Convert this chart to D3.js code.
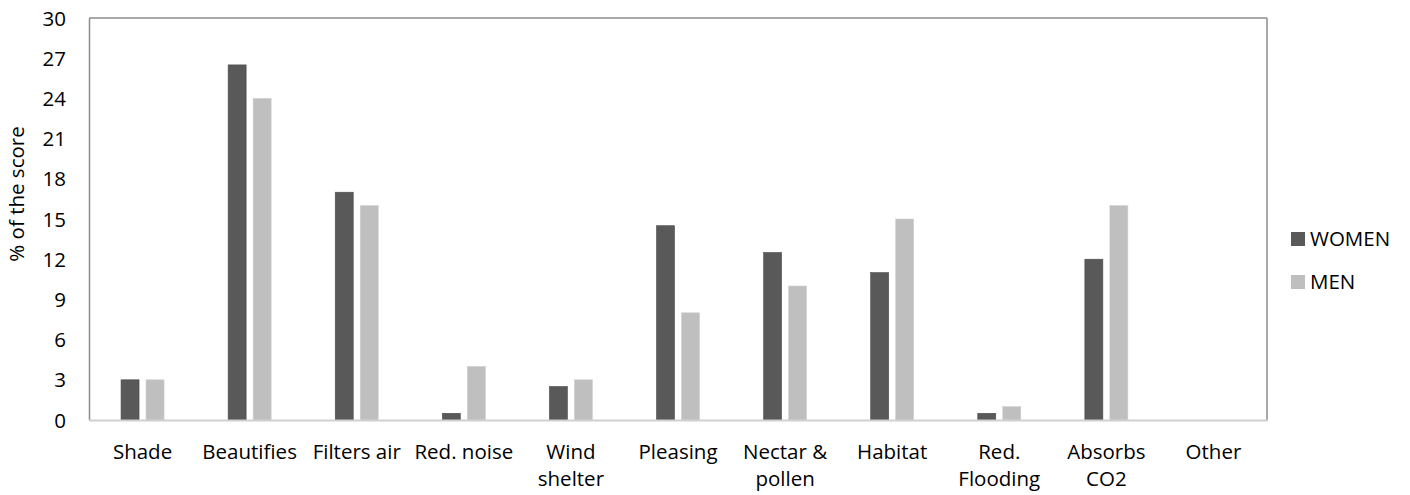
<!DOCTYPE html>
<html>
<head>
<meta charset="utf-8">
<script src="https://cdn.jsdelivr.net/npm/d3@7"></script>
<style>
  html, body { margin: 0; padding: 0; background: #fff; }
  svg text { font-family: "Open Sans", sans-serif; fill: #000; }
</style>
</head>
<body>
<svg id="chart" width="1410" height="495"></svg>
<script>
// Benefits of trees, share of total score by gender
const categories = [
  ["Shade"], ["Beautifies"], ["Filters air"], ["Red. noise"], ["Wind", "shelter"],
  ["Pleasing"], ["Nectar &", "pollen"], ["Habitat"], ["Red.", "Flooding"], ["Absorbs", "CO2"], ["Other"]
];
const women = [3, 26.5, 17, 0.5, 2.5, 14.5, 12.5, 11, 0.5, 12, 0];
const men   = [3, 24, 16, 4, 3, 8, 10, 15, 1, 16, 0];
const seriesNames = ["WOMEN", "MEN"];
const yTicks = [0, 3, 6, 9, 12, 15, 18, 21, 24, 27, 30];

const colors = ["#595959", "#bfbfbf"];
const svg = d3.select("#chart");
const plot = { left: 89, right: 1267, top: 18, bottom: 420 };
const fontSize = "20.5px";

const x = d3.scaleBand()
  .domain(d3.range(categories.length))
  .range([plot.left, plot.right]);
const y = d3.scaleLinear().domain([0, 30]).range([plot.bottom, plot.top]);

const barW = 18, barGap = 7;

// Frame
svg.append("line").attr("x1", plot.left).attr("x2", plot.right)
  .attr("y1", plot.top).attr("y2", plot.top).attr("stroke", "#8c8c8c").attr("stroke-width", 1.5);
svg.append("line").attr("x1", plot.right).attr("x2", plot.right)
  .attr("y1", plot.top).attr("y2", plot.bottom).attr("stroke", "#8c8c8c").attr("stroke-width", 1.5);

// Bars
const groups = [women, men];
groups.forEach((vals, si) => {
  svg.append("g").selectAll("rect").data(vals).join("rect")
    .attr("x", (d, i) => x(i) + x.bandwidth() / 2 + (si === 0 ? -(barW + barGap / 2) : barGap / 2))
    .attr("y", d => y(d))
    .attr("width", barW)
    .attr("height", d => y(0) - y(d))
    .attr("fill", colors[si])
    .attr("stroke", si === 0 ? "#4d4d4d" : "#cfcfcf")
    .attr("stroke-width", 0.6);
});

// Y axis
const yAxis = svg.append("g").attr("transform", `translate(${plot.left},0)`)
  .call(d3.axisLeft(y).tickValues(yTicks).tickSize(0).tickPadding(23));
yAxis.select(".domain").attr("stroke", "#8c8c8c").attr("stroke-width", 1.5);
yAxis.selectAll("text").style("font-size", fontSize).attr("dy", "0.35em");

// Bottom baseline
svg.append("line").attr("x1", plot.left).attr("x2", plot.right + 1)
  .attr("y1", plot.bottom + 0.5).attr("y2", plot.bottom + 0.5)
  .attr("stroke", "#d0d0d0").attr("stroke-width", 2);

// Category labels
const xl = svg.append("g");
categories.forEach((lines, i) => {
  const cx = x(i) + x.bandwidth() / 2;
  const t = xl.append("text")
    .attr("x", cx)
    .attr("y", 459)
    .attr("text-anchor", "middle")
    .style("font-size", fontSize);
  lines.forEach((ln, k) => {
    t.append("tspan").attr("x", cx).attr("dy", k === 0 ? 0 : 27).text(ln);
  });
});

// Y axis title
svg.append("text")
  .attr("transform", "translate(24,194) rotate(-90)")
  .attr("text-anchor", "middle")
  .style("font-size", fontSize)
  .text("% of the score");

// Legend
const legend = svg.append("g");
seriesNames.forEach((name, i) => {
  const ly = 232 + i * 43;
  legend.append("rect").attr("x", 1291).attr("y", ly).attr("width", 14).attr("height", 14)
    .attr("fill", colors[i]);
  legend.append("text").attr("x", 1310).attr("y", ly + 14)
    .style("font-size", fontSize).text(name);
});
</script>
</body>
</html>
